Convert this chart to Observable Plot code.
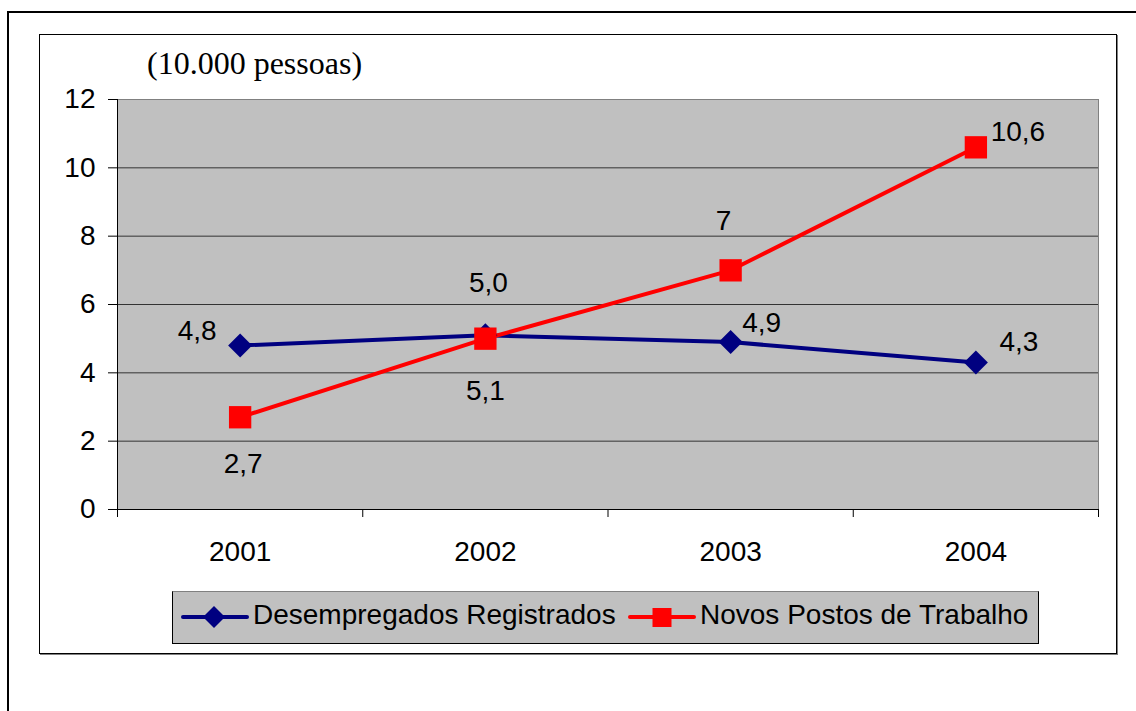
<!DOCTYPE html>
<html>
<head>
<meta charset="utf-8">
<script src="https://cdn.jsdelivr.net/npm/d3@7"></script>
<script src="https://cdn.jsdelivr.net/npm/@observablehq/plot@0.6"></script>
<style>
  html, body { margin: 0; padding: 0; background: #fff; overflow: hidden; }
  #page { position: relative; width: 1136px; height: 711px; overflow: hidden; font-family: "Liberation Sans", Arial, sans-serif; }
  #outer { position: absolute; left: 7px; top: 11px; width: 1200px; height: 800px; border: 2px solid #000; box-sizing: border-box; }
  #inner { position: absolute; left: 39px; top: 34px; width: 1078px; height: 620px; border: 1px solid #000; box-sizing: border-box; box-shadow: 1px 1px 0 #808080; }
  #title { position: absolute; left: 147px; top: 47px; font-family: "Liberation Serif", "Times New Roman", serif; font-size: 32px; line-height: 32px; color: #000; white-space: nowrap; }
  #chart { position: absolute; left: 0; top: 0; }
  #legend { position: absolute; left: 172px; top: 591px; width: 867px; height: 53px; box-sizing: border-box; background: #c0c0c0; border: 1px solid #000; border-top-color: #808080; }
  .sw { position: absolute; top: 0; }
  .lt { position: absolute; top: 9px; font-size: 28px; line-height: 28px; color: #000; white-space: nowrap; }
</style>
</head>
<body>
<div id="page">
  <div id="outer"></div>
  <div id="inner"></div>
  <div id="chart"></div>
  <div id="title"></div>
  <div id="legend"></div>
</div>
<script>
// ---- data ----
const years = [2001, 2002, 2003, 2004];
const desempregados = [4.8, 5.1, 4.9, 4.3];
const novosPostos = [2.7, 5.0, 7.0, 10.6];
const desempLabels = ["4,8", "5,0", "4,9", "4,3"];
const novosLabels = ["2,7", "5,1", "7", "10,6"];
const yTicks = [0, 2, 4, 6, 8, 10, 12];
const seriesNames = ["Desempregados Registrados", "Novos Postos de Trabalho"];
const titleText = "(10.000 pessoas)";

// ---- styling / layout config ----
const BLUE = "#000080", RED = "#ff0000";
const desOffsets = [[-43, -14], [3, -52], [31, -19], [43, -21]];
const novOffsets = [[3, 47], [0, 52], [-7, -49], [42, -15]];

const desRows = years.map((year, i) => ({year, value: desempregados[i], label: desempLabels[i], i}));
const novRows = years.map((year, i) => ({year, value: novosPostos[i], label: novosLabels[i], i}));
const xLo = years[0] - 0.5, xHi = years[years.length - 1] + 0.5;
const bounds = [xLo, ...years.map(y => y + 0.5)];
const FONT = "'Liberation Sans', Arial, sans-serif";

const labelMarks = [];
desRows.forEach((d, i) => labelMarks.push(Plot.text([d], {x: "year", y: "value", text: "label", dx: desOffsets[i][0], dy: desOffsets[i][1], fontSize: 28, fill: "#000"})));
novRows.forEach((d, i) => labelMarks.push(Plot.text([d], {x: "year", y: "value", text: "label", dx: novOffsets[i][0], dy: novOffsets[i][1], fontSize: 28, fill: "#000"})));

const chart = Plot.plot({
  width: 1136,
  height: 560,
  marginLeft: 117,
  marginRight: 38,
  marginTop: 99,
  marginBottom: 51,
  x: {domain: [xLo, xHi]},
  y: {domain: [yTicks[0], yTicks[yTicks.length - 1]]},
  style: {background: "none", color: "#000", fontFamily: FONT, fontSize: "28px", overflow: "visible"},
  marks: [
    Plot.frame({fill: "#c0c0c0", stroke: null}),
    Plot.ruleY(yTicks.slice(1, -1), {stroke: "#333", strokeWidth: 1}),
    Plot.ruleY([yTicks[yTicks.length - 1]], {stroke: "#808080"}),
    Plot.ruleX([xHi], {stroke: "#808080"}),
    Plot.ruleX([xLo], {stroke: "#000"}),
    Plot.ruleY([0], {stroke: "#000"}),
    Plot.axisY({ticks: yTicks, tickSize: 9, tickPadding: 13, fontSize: 28, label: null, tickFormat: d => String(d), stroke: "#000"}),
    Plot.axisX({ticks: years, tickSize: 0, tickPadding: 32, fontSize: 28, label: null, tickFormat: d => String(d)}),
    Plot.axisX({ticks: bounds, tickSize: 8, tickPadding: 0, label: null, tickFormat: () => "", stroke: "#000"}),
    Plot.line(desRows, {x: "year", y: "value", stroke: BLUE, strokeWidth: 4}),
    Plot.line(novRows, {x: "year", y: "value", stroke: RED, strokeWidth: 4}),
    Plot.dot(desRows, {x: "year", y: "value", symbol: "diamond2", r: 10.8, fill: BLUE, stroke: null}),
    Plot.dot(novRows, {x: "year", y: "value", symbol: "square", r: 12.6, fill: RED, stroke: null}),
    ...labelMarks
  ]
});
document.getElementById("chart").appendChild(chart);
document.getElementById("title").textContent = titleText;

// ---- legend ----
const legend = document.getElementById("legend");
const items = [
  {name: seriesNames[0], color: BLUE, shape: "diamond", swX: 8, txtX: 80},
  {name: seriesNames[1], color: RED, shape: "square", swX: 455, txtX: 527}
];
items.forEach(it => {
  const svg = d3.create("svg").attr("class", "sw").attr("width", 68).attr("height", 51).style("left", it.swX + "px");
  svg.append("line").attr("x1", 2).attr("x2", 66).attr("y1", 25).attr("y2", 25)
    .attr("stroke", it.color).attr("stroke-width", 4).attr("stroke-linecap", "round");
  if (it.shape === "diamond") {
    svg.append("path").attr("d", "M33,14L44,25L33,36L22,25Z").attr("fill", it.color);
  } else {
    svg.append("rect").attr("x", 24.5).attr("y", 16).attr("width", 19).attr("height", 19).attr("fill", it.color);
  }
  legend.appendChild(svg.node());
  const t = document.createElement("div");
  t.className = "lt";
  t.style.left = it.txtX + "px";
  t.textContent = it.name;
  legend.appendChild(t);
});
</script>
</body>
</html>
